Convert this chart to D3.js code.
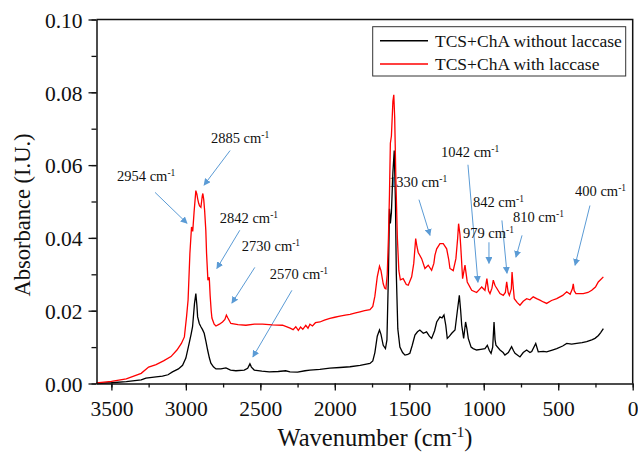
<!DOCTYPE html>
<html>
<head>
<meta charset="utf-8">
<script src="https://cdn.jsdelivr.net/npm/d3@7"></script>
<style>
  body { margin: 0; background: #fff; }
  svg text { font-family: "Liberation Serif", Tinos, "Times New Roman", Times, "DejaVu Serif", serif !important; fill: #111; }
</style>
</head>
<body>
<div id="chart"></div>
<script>
// spectra (wavenumber in cm-1, absorbance in I.U.)
var blackWn = [3600,3500,3400,3300,3268,3200,3157,3120,3090,3050,3022,3000,2978,2965,2955,2942,2933,2926,2921,2910,2899,2888,2877,2865,2854,2842,2832,2815,2798,2765,2731,2700,2664,2608,2585,2570,2560,2541,2490,2440,2380,2330,2301,2250,2200,2167,2100,2033,1966,1898,1830,1764,1745,1731,1715,1700,1690,1675,1660,1650,1640,1633,1627,1620,1610,1601,1593,1587,1577,1563,1545,1529,1510,1496,1480,1462,1445,1429,1406,1384,1365,1350,1330,1316,1294,1280,1267,1255,1245,1230,1215,1193,1178,1164,1155,1148,1135,1122,1113,1104,1085,1071,1048,1020,992,976,962,951,940,931,924,918,891,870,858,835,813,800,790,757,735,712,690,678,651,634,600,578,540,510,470,443,410,376,340,309,275,253,230,215,197];
var blackAbs = [0.0000,0.0002,0.0005,0.0010,0.0015,0.0018,0.0020,0.0024,0.0032,0.0040,0.0050,0.0070,0.0110,0.0135,0.0156,0.0220,0.0247,0.0215,0.0183,0.0165,0.0156,0.0148,0.0138,0.0115,0.0092,0.0070,0.0056,0.0046,0.0040,0.0040,0.0043,0.0037,0.0035,0.0037,0.0042,0.0054,0.0045,0.0037,0.0034,0.0032,0.0033,0.0035,0.0032,0.0031,0.0035,0.0037,0.0039,0.0042,0.0044,0.0046,0.0050,0.0055,0.0062,0.0085,0.0130,0.0147,0.0135,0.0105,0.0096,0.0120,0.0300,0.0480,0.0440,0.0470,0.0580,0.0640,0.0500,0.0300,0.0150,0.0100,0.0085,0.0078,0.0080,0.0083,0.0105,0.0133,0.0142,0.0147,0.0138,0.0142,0.0130,0.0124,0.0145,0.0169,0.0183,0.0180,0.0188,0.0160,0.0124,0.0130,0.0138,0.0147,0.0197,0.0242,0.0200,0.0160,0.0124,0.0169,0.0150,0.0124,0.0100,0.0096,0.0092,0.0094,0.0096,0.0105,0.0090,0.0083,0.0100,0.0169,0.0120,0.0105,0.0092,0.0085,0.0078,0.0085,0.0101,0.0090,0.0083,0.0073,0.0085,0.0092,0.0085,0.0088,0.0110,0.0087,0.0088,0.0087,0.0092,0.0096,0.0103,0.0110,0.0108,0.0110,0.0112,0.0115,0.0120,0.0124,0.0132,0.0140,0.0151];

var redWn = [3600,3500,3400,3300,3250,3200,3150,3100,3060,3030,3010,2995,2985,2973,2962,2954,2945,2933,2926,2921,2914,2908,2899,2890,2886,2880,2874,2866,2861,2852,2843,2837,2830,2825,2810,2798,2775,2754,2738,2728,2718,2698,2650,2597,2540,2485,2420,2351,2300,2280,2262,2245,2230,2215,2195,2180,2167,2150,2130,2100,2070,2033,2000,1966,1930,1898,1860,1831,1800,1764,1745,1731,1715,1700,1690,1675,1665,1657,1648,1640,1633,1627,1620,1610,1604,1598,1590,1580,1570,1560,1541,1520,1507,1484,1470,1457,1448,1440,1417,1395,1373,1350,1335,1328,1316,1294,1272,1249,1235,1227,1205,1187,1175,1169,1160,1155,1142,1126,1111,1081,1048,1030,1014,992,979,968,958,945,936,925,918,891,869,855,846,836,828,815,810,803,795,775,757,735,712,690,668,645,623,600,578,545,510,470,443,420,405,399,393,381,332,300,275,250,231,197];
var redAbs = [0.0002,0.0006,0.0013,0.0028,0.0045,0.0052,0.0062,0.0074,0.0092,0.0110,0.0128,0.0185,0.0230,0.0357,0.0430,0.0418,0.0470,0.0530,0.0520,0.0508,0.0495,0.0488,0.0484,0.0515,0.0522,0.0505,0.0475,0.0420,0.0357,0.0284,0.0292,0.0242,0.0200,0.0180,0.0163,0.0158,0.0163,0.0169,0.0176,0.0188,0.0180,0.0165,0.0162,0.0160,0.0163,0.0163,0.0161,0.0160,0.0152,0.0148,0.0156,0.0146,0.0155,0.0149,0.0160,0.0152,0.0163,0.0158,0.0167,0.0169,0.0174,0.0179,0.0182,0.0185,0.0188,0.0190,0.0194,0.0197,0.0200,0.0203,0.0212,0.0240,0.0293,0.0322,0.0310,0.0274,0.0262,0.0260,0.0300,0.0400,0.0520,0.0660,0.0680,0.0775,0.0793,0.0730,0.0560,0.0400,0.0310,0.0285,0.0288,0.0272,0.0270,0.0293,0.0330,0.0398,0.0375,0.0360,0.0343,0.0316,0.0325,0.0311,0.0330,0.0352,0.0370,0.0384,0.0384,0.0370,0.0340,0.0316,0.0310,0.0343,0.0400,0.0439,0.0410,0.0380,0.0288,0.0325,0.0279,0.0256,0.0250,0.0258,0.0265,0.0256,0.0288,0.0255,0.0247,0.0262,0.0284,0.0270,0.0265,0.0247,0.0242,0.0250,0.0279,0.0250,0.0242,0.0260,0.0306,0.0270,0.0233,0.0222,0.0215,0.0226,0.0233,0.0230,0.0238,0.0233,0.0229,0.0224,0.0220,0.0228,0.0233,0.0242,0.0252,0.0245,0.0260,0.0274,0.0255,0.0247,0.0247,0.0250,0.0256,0.0265,0.0279,0.0293];

var xTicks = [3500, 3000, 2500, 2000, 1500, 1000, 500, 0];
var yTicks = [0, 0.02, 0.04, 0.06, 0.08, 0.10];
var seriesNames = ["TCS+ChA without laccase", "TCS+ChA with laccase"];

// peak labels: text anchor and arrow start/end, in data units
var peakLabels = ["2954", "2885", "2842", "2730", "2570", "1330", "1042", "842", "810", "979", "400"];
var labelWn  = [3462, 2832, 2772, 2624, 2436, 1637, 1287, 1073, 804, 1140, 387];
var labelAbs = [0.0556, 0.0662, 0.0440, 0.0363, 0.0286, 0.0541, 0.0623, 0.0486, 0.0445, 0.0401, 0.0514];
var arrowFrom = [[3207,0.0525],[2703,0.0640],[2638,0.0421],[2537,0.0319],[2288,0.0256],[1435,0.0505],[1106,0.0601],[878,0.0448],[743,0.0407],[965,0.0388],[287,0.0489]];
var arrowTo   = [[2992,0.0440],[2878,0.0545],[2792,0.0316],[2691,0.0221],[2550,0.0073],[1361,0.0407],[1039,0.0278],[844,0.0303],[784,0.0347],[965,0.0330],[387,0.0325]];

var width = 638, height = 454;
var margin = {top: 19.5, right: 5.3, bottom: 70.5, left: 96.5};

var svg = d3.select("#chart").append("svg")
  .attr("width", width)
  .attr("height", height)
  .attr("font-family", '"Liberation Serif", serif');

var x = d3.scaleLinear().domain([3600, 0]).range([margin.left, width - margin.right]);
var y = d3.scaleLinear().domain([0, 0.1]).range([height - margin.bottom, margin.top]);

var line = d3.line()
  .x(d => x(d[0]))
  .y(d => y(d[1]));

// arrows and peak labels go under the spectra (the 1330 label is partly hidden in the original)
svg.append("defs").append("marker")
  .attr("id", "head")
  .attr("viewBox", "0 0 10 10")
  .attr("refX", 9)
  .attr("refY", 5)
  .attr("markerWidth", 7)
  .attr("markerHeight", 7)
  .attr("markerUnits", "userSpaceOnUse")
  .attr("orient", "auto")
  .append("path")
  .attr("d", "M0,0L10,5L0,10z")
  .attr("fill", "#5b9bd5");

svg.append("g").selectAll("line")
  .data(arrowFrom)
  .enter().append("line")
  .attr("x1", d => x(d[0]))
  .attr("y1", d => y(d[1]))
  .attr("x2", (d, i) => x(arrowTo[i][0]))
  .attr("y2", (d, i) => y(arrowTo[i][1]))
  .attr("stroke", "#5b9bd5")
  .attr("stroke-width", 1)
  .attr("marker-end", "url(#head)");

var labels = svg.append("g").selectAll("text")
  .data(peakLabels)
  .enter().append("text")
  .attr("x", (d, i) => x(labelWn[i]))
  .attr("y", (d, i) => y(labelAbs[i]))
  .style("font-size", "14.5px");
labels.append("tspan").text(d => d + " cm");
labels.append("tspan").attr("dy", -5).style("font-size", "9.5px").text("-1");

// spectra
svg.append("path")
  .datum(blackWn.map((w, i) => [w, blackAbs[i]]))
  .attr("fill", "none")
  .attr("stroke", "#000")
  .attr("stroke-width", 1.3)
  .attr("d", line);

svg.append("path")
  .datum(redWn.map((w, i) => [w, redAbs[i]]))
  .attr("fill", "none")
  .attr("stroke", "#ff0000")
  .attr("stroke-width", 1.3)
  .attr("d", line);

// frame (top and right)
svg.append("path")
  .attr("fill", "none")
  .attr("stroke", "#111")
  .attr("stroke-width", 1.5)
  .attr("d", `M${x.range()[0]},${y.range()[1]}H${x.range()[1]}V${y.range()[0]}`);

// minor ticks
svg.append("g")
  .attr("transform", `translate(0,${y.range()[0]})`)
  .call(d3.axisBottom(x).tickValues(d3.range(3500, -1, -250)).tickSize(4).tickFormat(""))
  .call(g => g.select(".domain").remove())
  .selectAll("line").attr("stroke", "#111").attr("stroke-width", 1.3);

svg.append("g")
  .attr("transform", `translate(${x.range()[0]},0)`)
  .call(d3.axisLeft(y).tickValues(d3.range(0, 0.1001, 0.01)).tickSize(5).tickFormat(""))
  .call(g => g.select(".domain").remove())
  .selectAll("line").attr("stroke", "#111").attr("stroke-width", 1.3);

// major axes
var xAxis = svg.append("g")
  .attr("transform", `translate(0,${y.range()[0]})`)
  .call(d3.axisBottom(x).tickValues(xTicks).tickSize(7).tickSizeOuter(0).tickPadding(5).tickFormat(d3.format("d")));

var yAxis = svg.append("g")
  .attr("transform", `translate(${x.range()[0]},0)`)
  .call(d3.axisLeft(y).tickValues(yTicks).tickSize(8).tickSizeOuter(0).tickPadding(6).tickFormat(d3.format(".2f")));

[xAxis, yAxis].forEach(function(g) {
  g.attr("font-family", null).attr("font-size", null);
  g.select(".domain").attr("stroke", "#111").attr("stroke-width", 1.5);
  g.selectAll("line").attr("stroke", "#111").attr("stroke-width", 1.3);
  g.selectAll("text")
    .style("font-size", "21.5px")
    .attr("fill", "#111");
});
xAxis.selectAll("text").attr("dy", "0.95em");
yAxis.selectAll("text").attr("dy", "0.36em");

// axis titles
svg.append("text")
  .attr("text-anchor", "middle")
  .attr("transform", "translate(30," + 215 + ")rotate(-90)")
  .style("font-size", "22.5px")
  .text("Absorbance (I.U.)");

var xTitle = svg.append("text")
  .attr("text-anchor", "middle")
  .attr("x", 375)
  .attr("y", 446)
  .style("font-size", "24.5px");
xTitle.append("tspan").text("Wavenumber (cm");
xTitle.append("tspan").attr("dy", -9).style("font-size", "15px").text("-1");
xTitle.append("tspan").attr("dy", 9).text(")");

// legend
var legend = svg.append("g");
legend.append("rect")
  .attr("x", 372.7).attr("y", 26.7)
  .attr("width", 253).attr("height", 49.3)
  .attr("fill", "#fff")
  .attr("stroke", "#333")
  .attr("stroke-width", 1);

var legendColors = ["#000", "#ff0000"];
seriesNames.forEach(function(name, i) {
  var ly = 40.7 + i * 23.3;
  legend.append("line")
    .attr("x1", 380).attr("x2", 428)
    .attr("y1", ly).attr("y2", ly)
    .attr("stroke", legendColors[i])
    .attr("stroke-width", 1.5);
  legend.append("text")
    .attr("x", 435)
    .attr("y", ly + 6)
    .style("font-size", "17.5px")
    .text(name);
});
</script>
</body>
</html>
